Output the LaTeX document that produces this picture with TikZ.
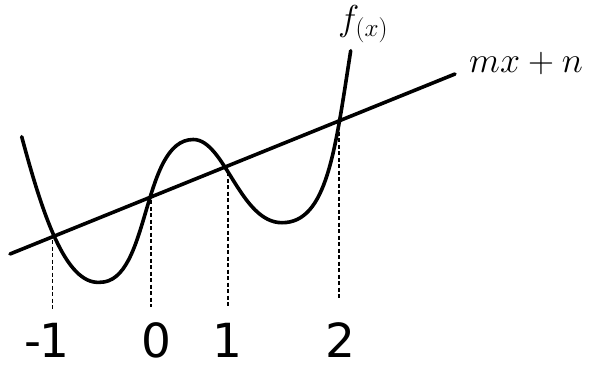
\RequirePackage{fix-cm}
\documentclass[tikz,border=0pt]{standalone}
\usepackage{fontspec}
\newfontfamily\numfont{DejaVu Sans}
\begin{document}
\begin{tikzpicture}[x=1pt,y=-1pt,
  curvestyle/.style={line width=3.6pt, line cap=round, line join=round},
  dashline/.style={line width=1.8pt, dash pattern=on 4pt off 2.5pt},
  numlabel/.style={anchor=base, inner sep=0pt, text height=35pt, text depth=0pt, font=\numfont\fontsize{47}{47}\selectfont},
  mathlabel/.style={anchor=base west, inner sep=0pt, font=\fontsize{36}{36}\selectfont}]
\useasboundingbox (0,0) rectangle (591,364);
% straight line m x + n
\coordinate (lA) at (10,254);
\coordinate (lB) at (455,74);
\draw[curvestyle] (lA) -- (lB);
% key points of f(x)
\coordinate (fstart) at (21.7,136.7);
\coordinate (min1) at (100,282.3);
\coordinate (max1) at (193.3,139.5);
\coordinate (min2) at (282,222.7);
\coordinate (fend) at (350.7,50.7);
\draw[curvestyle] (fstart)
  .. controls (42,212) and (65,285) .. (min1)
  .. controls (150.4,282.3) and (141.2,139.5) .. (max1)
  .. controls (224.7,139.5) and (240.1,222.7) .. (min2)
  .. controls (327,222.7) and (335.1,150.7) .. (fend);
% dashed drops
\coordinate (tm1) at (52.5,240);
\coordinate (t0) at (151.3,200);
\coordinate (t1) at (228,172);
\coordinate (t2) at (339,125);
\coordinate (bm1) at (52.5,311);
\coordinate (b0) at (151.3,307);
\coordinate (b1) at (228,307);
\coordinate (b2) at (339,300);
\draw[dashline] (tm1) -- (bm1);
\draw[dashline] (t0) -- (b0);
\draw[dashline] (t1) -- (b1);
\draw[dashline] (t2) -- (b2);
% labels
\node[numlabel] (nm1) at (47,357) {-\kern-2pt1};
\node[numlabel] (n0) at (156,357) {0};
\node[numlabel] (n1) at (227,357) {1};
\node[numlabel] (n2) at (340,357) {2};
\node[mathlabel] (fx) at (338,30) {$f_{(x)}$};
\node[mathlabel] (mxn) at (469,72) {$mx+n$};
\end{tikzpicture}
\end{document}
